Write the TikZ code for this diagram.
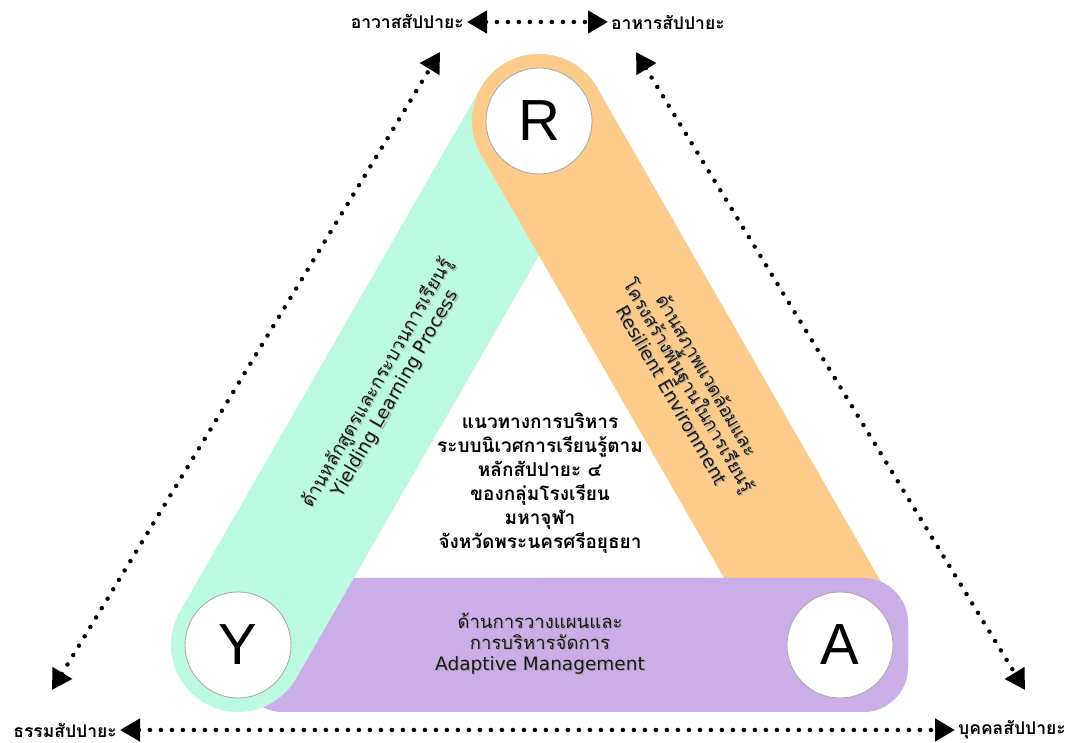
\documentclass[tikz,border=0pt]{standalone}
\usepackage{fontspec}
\newfontfamily\thaifont[Script=Thai]{Loma}
\newfontfamily\latfont{Liberation Sans}
\newfontfamily\engfont{DejaVu Sans}
\usetikzlibrary{arrows.meta,calc}
\definecolor{mint}{RGB}{188,249,225}
\definecolor{peach}{RGB}{253,203,138}
\definecolor{lilac}{RGB}{201,174,231}
\newcommand{\eng}[1]{{\engfont\fontsize{18.5}{21}\selectfont #1}}
\begin{document}
\begin{tikzpicture}[x=1pt,y=1pt,
 capsule/.style={line width=134pt, line cap=round},
 letter/.style={circle, fill=white, draw=gray!70, line width=0.8pt, minimum size=106pt, inner sep=0pt, font=\latfont\fontsize{58}{60}\selectfont},
 dotarrow/.style={line width=4.5pt, line cap=round, dash pattern=on 0pt off 11pt, {Triangle[length=20pt,width=22pt]}-{Triangle[length=20pt,width=22pt]}},
 corner/.style={font=\thaifont\bfseries\fontsize{17.5}{20}\selectfont, inner sep=3pt},
 bandtext/.style={font=\thaifont\fontsize{18.5}{21}\selectfont, align=center, text=black!90},
 bandshadow/.style={bandtext, text=black!40, opacity=0.7},
 coretext/.style={font=\thaifont\bfseries\fontsize{19}{24}\selectfont, align=center},
]
\useasboundingbox (0,0) rectangle (1072,743);
\fill[white] (0,0) rectangle (1072,743);
\coordinate (Y) at (238,98);
\coordinate (A) at (840,98);
\coordinate (R) at (539,622);
% bands
\node[fill=lilac, rounded corners=45pt, minimum width=670pt, minimum height=134pt, inner sep=0pt] (pband) at (573,98) {};
\draw[capsule, mint] (Y) -- (R);
\draw[capsule, peach] (R) -- (A);
\begin{scope}
\clip (540,0) rectangle (1072,743);
\fill[lilac, rounded corners=45pt] (238,31) rectangle (908,165);
\end{scope}
% circles
\node[letter] (r) at (R) {R};
\node[letter] (y) at (Y) {Y};
\node[letter] (a) at (A) {A};
% band texts (soft shadow, then text)
\node[bandshadow, rotate=60.12] at (387.2,353.8) {ด้านหลักสูตรและกระบวนการเรียนรู้\\\eng{Yielding Learning Process}};
\node[bandtext, rotate=60.12] (gtext) at (386,355) {ด้านหลักสูตรและกระบวนการเรียนรู้\\\eng{Yielding Learning Process}};
\node[bandshadow, rotate=-60.12, font=\thaifont\fontsize{18.5}{19.5}\selectfont] at (691.2,356.8) {ด้านสภาพแวดล้อมและ\\โครงสร้างพื้นฐานในการเรียนรู้\\\eng{Resilient Environment}};
\node[bandtext, rotate=-60.12, font=\thaifont\fontsize{18.5}{19.5}\selectfont] (otext) at (690,358) {ด้านสภาพแวดล้อมและ\\โครงสร้างพื้นฐานในการเรียนรู้\\\eng{Resilient Environment}};
\node[bandshadow] at (541.2,97.8) {ด้านการวางแผนและ\\การบริหารจัดการ\\\eng{Adaptive Management}};
\node[bandtext] (ptext) at (540,99) {ด้านการวางแผนและ\\การบริหารจัดการ\\\eng{Adaptive Management}};
\node[coretext] (core) at (540,260) {แนวทางการบริหาร\\ระบบนิเวศการเรียนรู้ตาม\\หลักสัปปายะ ๔\\ของกลุ่มโรงเรียน\\มหาจุฬา\\จังหวัดพระนครศรีอยุธยา};
% corner labels
\node[corner, anchor=east] (awas) at (467,721) {อาวาสสัปปายะ};
\node[corner, anchor=west] (ahan) at (608,721) {อาหารสัปปายะ};
\node[corner, anchor=east] (tham) at (120,13) {ธรรมสัปปายะ};
\node[corner, anchor=west] (bukkhon) at (955,13) {บุคคลสัปปายะ};
\coordinate (lb) at (52,53);
\coordinate (lt) at (440,691);
\coordinate (rt) at (636,691);
\coordinate (rb) at (1025,53);
\draw[dotarrow] (awas.east) -- (ahan.west);
\draw[dotarrow] (tham.east) -- (bukkhon.west);
\draw[dotarrow] (lb) -- (lt);
\draw[dotarrow] (rt) -- (rb);
\end{tikzpicture}
\end{document}
